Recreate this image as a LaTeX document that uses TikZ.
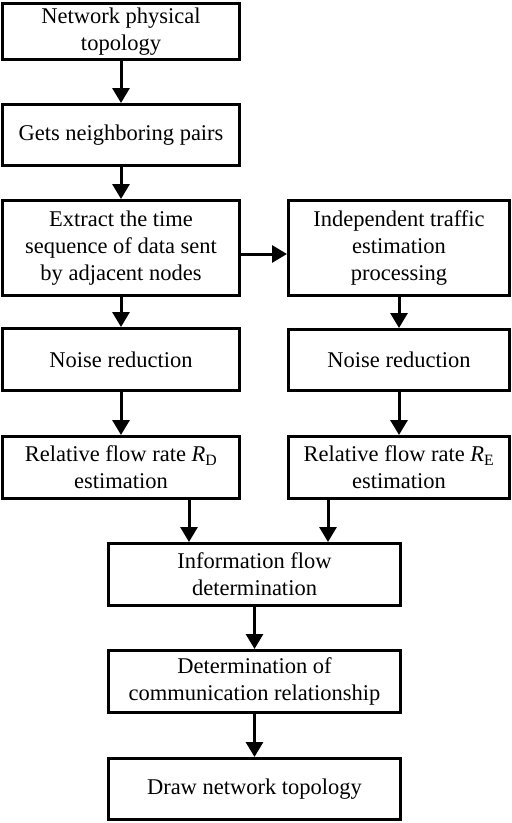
\documentclass[tikz,border=0pt]{standalone}
\usepackage{fontspec}
\setmainfont{Liberation Serif}
\usetikzlibrary{arrows.meta}
\begin{document}
\begin{tikzpicture}[x=1pt,y=-1pt,
  box/.style={draw=black,line width=3pt,align=center,inner sep=0pt,
    font=\fontsize{22.5}{26.7}\selectfont},
  arr/.style={line width=3pt,-{Triangle[length=15pt,width=17pt]}}]
\useasboundingbox (0,0) rectangle (512,823);
\node[box,minimum width=237pt,minimum height=56pt] (b1) at (121,31.5) {Network physical\\topology};
\node[box,minimum width=237pt,minimum height=61pt] (b2) at (121,135) {Gets neighboring pairs};
\node[box,minimum width=237pt,minimum height=95pt] (b3) at (121,248) {Extract the time\\sequence of data sent\\by adjacent nodes};
\node[box,minimum width=221pt,minimum height=95pt] (b4) at (399,248) {Independent traffic\\estimation\\processing};
\node[box,minimum width=237pt,minimum height=62pt] (b5) at (121,359.5) {Noise reduction};
\node[box,minimum width=221pt,minimum height=61pt] (b6) at (399,360) {Noise reduction};
\node[box,minimum width=237pt,minimum height=62pt] (b7) at (121,467.5) {Relative flow rate {\itshape R}\textsubscript{D}\\estimation};
\node[box,minimum width=221pt,minimum height=62pt] (b8) at (399,467.5) {Relative flow rate {\itshape R}\textsubscript{E}\\estimation};
\node[box,minimum width=292pt,minimum height=62pt] (b9) at (254.5,574.5) {Information flow\\determination};
\node[box,minimum width=292pt,minimum height=62pt] (b10) at (254.5,681.5) {Determination of\\communication relationship};
\node[box,minimum width=292pt,minimum height=61pt] (b11) at (254.5,789) {Draw network topology};
\draw[arr] (b1) -- (b2);
\draw[arr] (b2) -- (b3);
\draw[arr] ([yshift=-6pt]b3.east) -- ([yshift=-6pt]b4.west);
\draw[arr] (b3) -- (b5);
\draw[arr] (b4) -- (b6);
\draw[arr] (b5) -- (b7);
\draw[arr] (b6) -- (b8);
\draw[arr] (b7.south -| b9.north west) ++(82,0) coordinate (s7) (s7) -- (s7 |- b9.north);
\draw[arr] (b8.south -| b9.north west) ++(221,0) coordinate (s8) (s8) -- (s8 |- b9.north);
\draw[arr] (b9) -- (b10);
\draw[arr] (b10) -- (b11);
\end{tikzpicture}
\end{document}
